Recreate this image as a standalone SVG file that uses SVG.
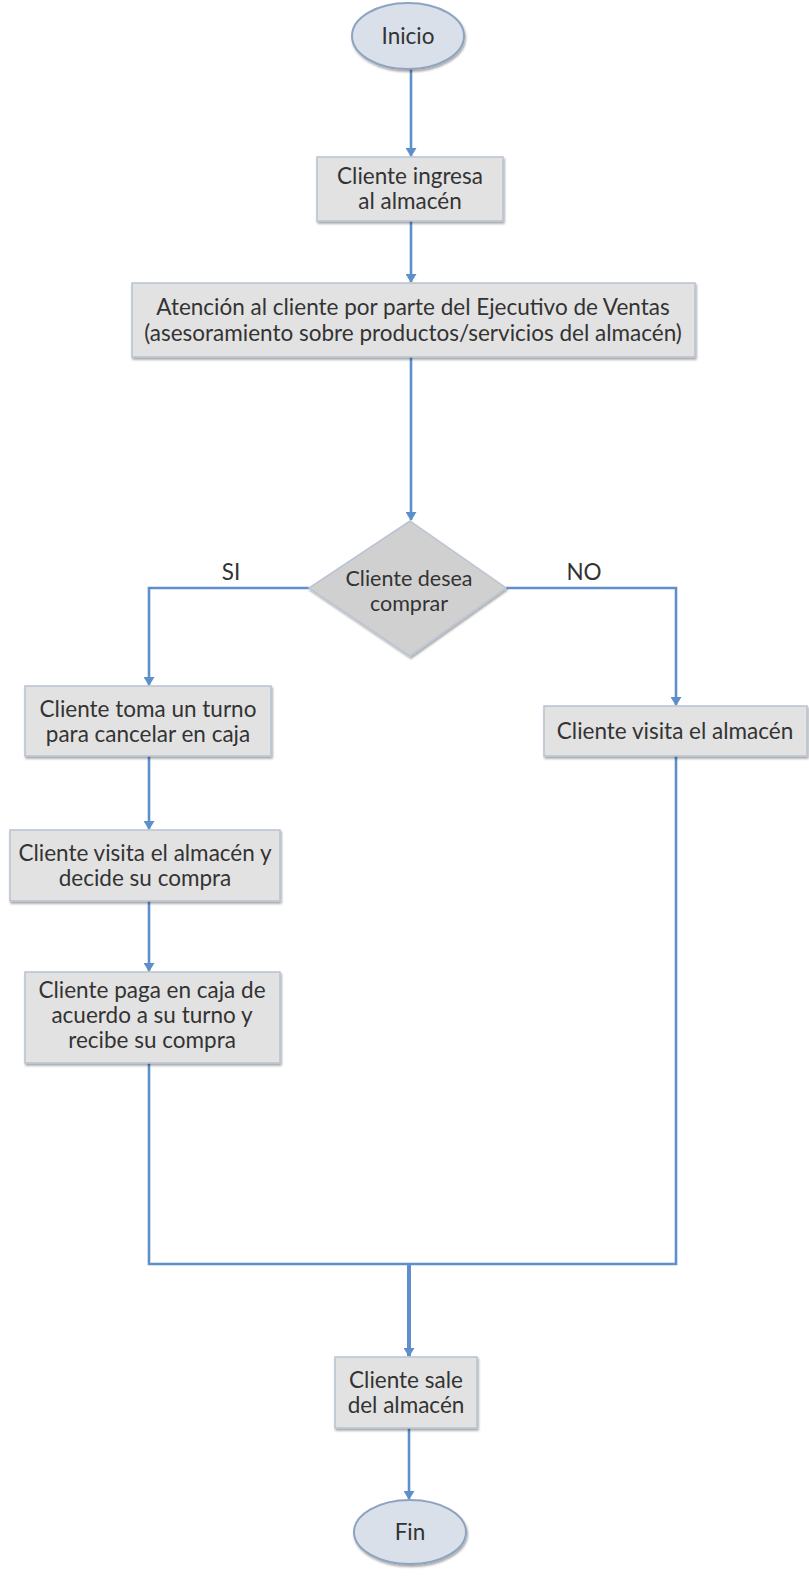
<svg xmlns="http://www.w3.org/2000/svg" width="809" height="1588" viewBox="0 0 809 1588">
<defs>
<style>
.box{fill:#e2e2e2;stroke:#b7c2d1;stroke-width:1.5;filter:url(#sh)}
.ell{fill:#d9e0ea;stroke:#8ea3c0;stroke-width:2;filter:url(#sh)}
.dia{fill:#d0d0d0;stroke:#b9c4d3;stroke-width:1.5;filter:url(#sh)}
.t{font-family:Lato,"Open Sans",sans-serif;font-size:22.5px;fill:#333;text-anchor:middle}
.d{font-size:21.5px}
.c{fill:none;stroke:#5e8fcb;stroke-width:2.6}
</style>
<filter id="sh" x="-10%" y="-10%" width="120%" height="130%">
<feDropShadow dx="1" dy="2" stdDeviation="1.2" flood-color="#000" flood-opacity="0.35"/>
</filter>
<marker id="ah" markerWidth="11" markerHeight="11" refX="8" refY="5.5" orient="auto" markerUnits="userSpaceOnUse">
<path d="M0,0 L9,5.5 L0,11 z" fill="#5e8fcb"/>
</marker>
</defs>
<rect width="809" height="1588" fill="#fff"/>
<g id="connectors">
<path class="c" d="M411,69 V156" marker-end="url(#ah)"/>
<path class="c" d="M411,221 V282" marker-end="url(#ah)"/>
<path class="c" d="M411,357 V520" marker-end="url(#ah)"/>
<path class="c" d="M309,588 H149 V685" marker-end="url(#ah)"/>
<path class="c" d="M506,588 H676 V705" marker-end="url(#ah)"/>
<path class="c" d="M149,756 V829" marker-end="url(#ah)"/>
<path class="c" d="M149,901 V971" marker-end="url(#ah)"/>
<path class="c" d="M149,1063 V1264 H676 V756"/>
<path class="c" style="stroke-width:4" d="M409,1264 V1356" marker-end="url(#ah)"/>
<path class="c" d="M409,1428 V1499" marker-end="url(#ah)"/>
<text class="t" x="231" y="580">SI</text>
<text class="t" x="584" y="580">NO</text>
</g>
<g id="inicio">
<ellipse class="ell" cx="408" cy="36" rx="56" ry="33"/>
<text class="t" x="408" y="44">Inicio</text>
</g>
<g id="ingresa">
<rect class="box" x="317" y="157" width="186" height="64"/>
<text class="t" x="410" y="184">Cliente ingresa</text>
<text class="t" x="410" y="209">al almacén</text>
</g>
<g id="atencion">
<rect class="box" x="132" y="283" width="563" height="74"/>
<text class="t" x="413" y="315">Atención al cliente por parte del Ejecutivo de Ventas</text>
<text class="t" x="413" y="341">(asesoramiento sobre productos/servicios del almacén)</text>
</g>
<g id="decision">
<polygon class="dia" points="410,521 506,588 410,656 309,588"/>
<text class="t d" x="409" y="586">Cliente desea</text>
<text class="t d" x="409" y="611">comprar</text>
</g>
<g id="turno">
<rect class="box" x="25" y="686" width="246" height="70"/>
<text class="t" x="148" y="717">Cliente toma un turno</text>
<text class="t" x="148" y="742">para cancelar en caja</text>
</g>
<g id="visita-no">
<rect class="box" x="544" y="706" width="263" height="50"/>
<text class="t" x="675" y="739">Cliente visita el almacén</text>
</g>
<g id="visita-si">
<rect class="box" x="10" y="830" width="270" height="71"/>
<text class="t" x="145" y="861">Cliente visita el almacén y</text>
<text class="t" x="145" y="886">decide su compra</text>
</g>
<g id="paga">
<rect class="box" x="25" y="972" width="255" height="91"/>
<text class="t" x="152" y="998">Cliente paga en caja de</text>
<text class="t" x="152" y="1023">acuerdo a su turno y</text>
<text class="t" x="152" y="1048">recibe su compra</text>
</g>
<g id="sale">
<rect class="box" x="335" y="1357" width="142" height="71"/>
<text class="t" x="406" y="1388">Cliente sale</text>
<text class="t" x="406" y="1413">del almacén</text>
</g>
<g id="fin">
<ellipse class="ell" cx="410" cy="1532" rx="56" ry="32"/>
<text class="t" x="410" y="1540">Fin</text>
</g>
</svg>
